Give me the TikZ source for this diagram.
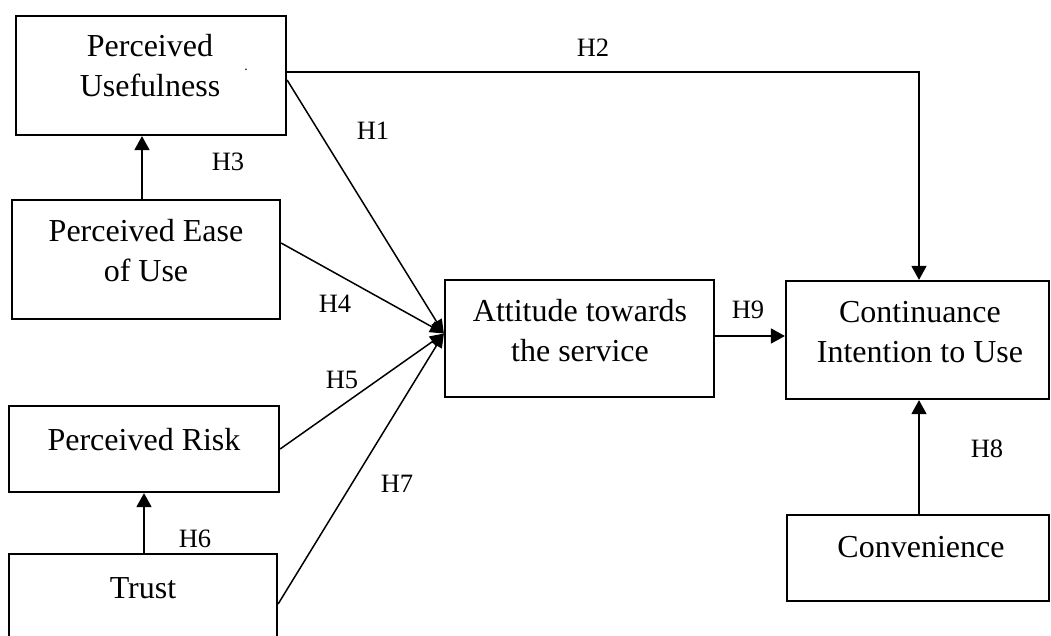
\documentclass[tikz,border=0pt]{standalone}
\usepackage{fontspec}
\setmainfont{Liberation Serif}
\usetikzlibrary{arrows.meta}
\begin{document}
\begin{tikzpicture}[x=1pt,y=-1pt,
  box/.style={draw,line width=2.2pt,inner sep=0pt},
  boxtext/.style={align=center,font=\fontsize{32}{40}\selectfont,inner sep=0pt},
  hlab/.style={font=\fontsize{26.5}{28}\selectfont,inner sep=0pt},
  arr/.style={line width=1.5pt,-{Triangle[width=15pt,length=14pt]}},
  conn/.style={line width=1.5pt,-{Triangle[width=12pt,length=14pt]}}]
\useasboundingbox (0,0) rectangle (1051,635);
% boxes
\node[box,minimum width=270pt,minimum height=119pt] (pu) at (151,75.5) {};
\node[box,minimum width=268pt,minimum height=119pt] (peou) at (146,259.5) {};
\node[box,minimum width=269pt,minimum height=117pt] (att) at (579.5,338.5) {};
\node[box,minimum width=263pt,minimum height=118pt] (ci) at (917.5,340) {};
\node[box,minimum width=262pt,minimum height=86pt] (conv) at (918,558) {};
\node[box,minimum width=270pt,minimum height=86pt] (pr) at (144,449) {};
\node[box,minimum width=268pt,minimum height=106pt] (trust) at (143,607) {};
% texts
\node[boxtext] (tpu) at (150,66) {Perceived\\Usefulness};
\node[inner sep=0pt,font=\fontsize{14}{14}\selectfont] (dot) at (246,70) {.};
\node[boxtext] (tpeou) at (146,251) {Perceived Ease\\of Use};
\node[boxtext] (tatt) at (580,331) {Attitude towards\\the service};
\node[boxtext] (tci) at (920,332) {Continuance\\Intention to Use};
\node[boxtext] (tconv) at (921,547) {Convenience};
\node[boxtext] (tpr) at (144,440) {Perceived Risk};
\node[boxtext] (ttrust) at (143,588) {Trust};
% convergence point
\coordinate (c) at ([yshift=5pt]att.west);
% connectors
\draw[arr] ([xshift=-4pt]peou.north) -- ([xshift=-4pt]peou.north |- pu.south);
\draw[arr] ([yshift=3.5pt]pu.east) -| ([xshift=1.5pt]ci.north);
\draw[conn] ([yshift=-4.5pt]pu.east) -- (c);
\draw[conn] ([yshift=16.5pt]peou.east) -- (c);
\draw[conn] (pr.east) -- (c);
\draw[conn] ([yshift=3pt]trust.east) -- (c);
\draw[arr] ([yshift=2.5pt]att.east) -- ([yshift=2.5pt]att.east -| ci.west);
\draw[arr] ([xshift=1pt]conv.north) -- ([xshift=1pt]conv.north |- ci.south);
\draw[arr] ([xshift=1pt]trust.north) -- ([xshift=1pt]trust.north |- pr.south);
% labels
\node[hlab] (h1) at (373,131) {H1};
\node[hlab] (h2) at (593,48) {H2};
\node[hlab] (h3) at (228,162) {H3};
\node[hlab] (h4) at (335,304) {H4};
\node[hlab] (h5) at (342,380) {H5};
\node[hlab] (h6) at (195,539) {H6};
\node[hlab] (h7) at (397,484) {H7};
\node[hlab] (h8) at (987,449) {H8};
\node[hlab] (h9) at (748,310) {H9};
\end{tikzpicture}
\end{document}
